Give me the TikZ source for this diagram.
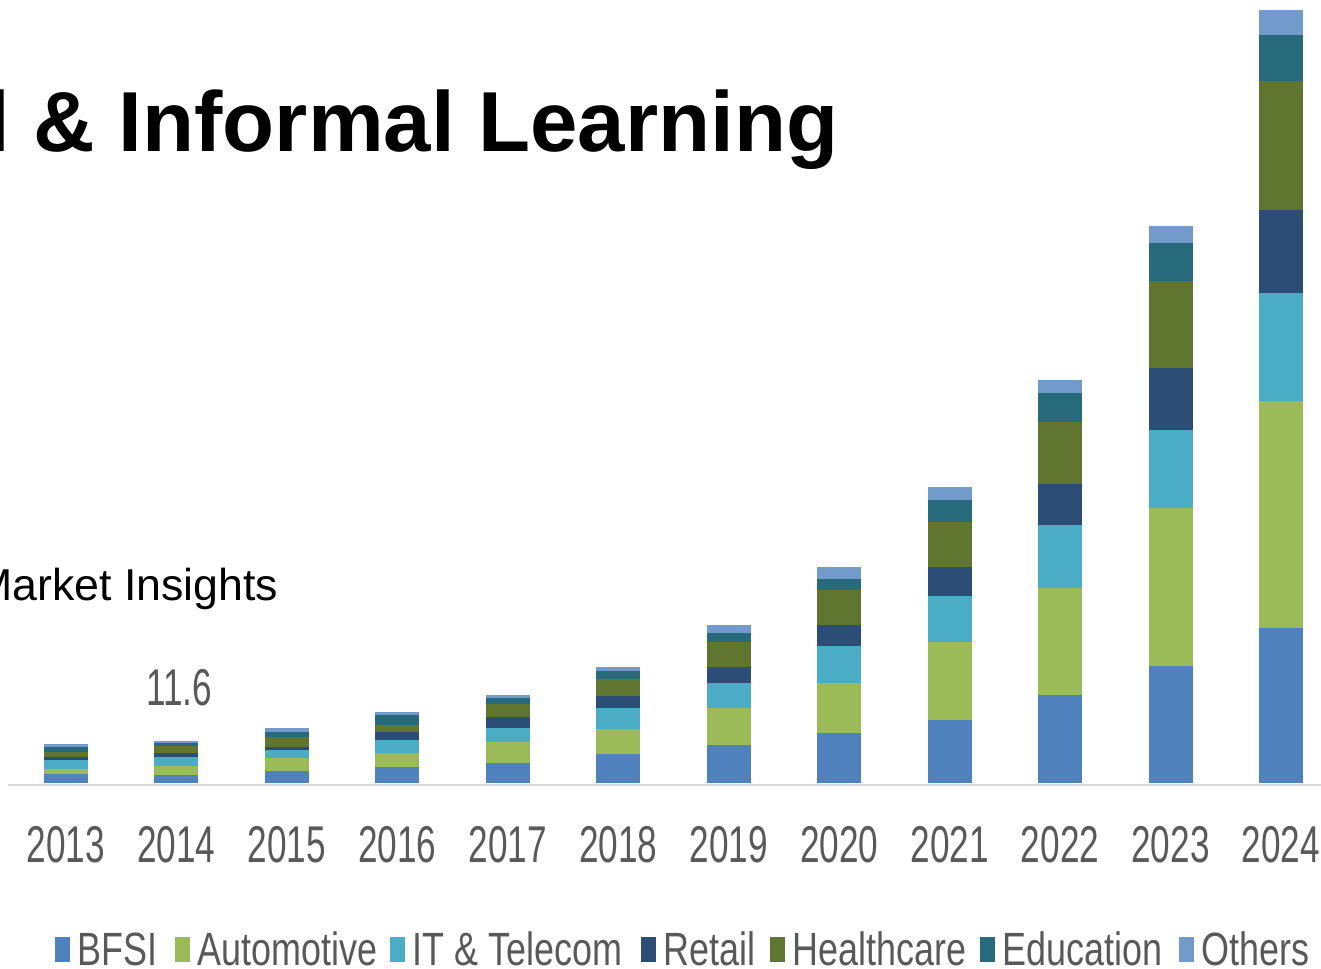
\documentclass[tikz,border=0pt]{standalone}
\usepackage{fontspec}
\setmainfont{Liberation Sans}
\newfontfamily\yearfont[FakeStretch=0.68]{Liberation Sans}
\newfontfamily\legfont[FakeStretch=0.77]{Liberation Sans}
\definecolor{cBFSI}{HTML}{4F81BD}
\definecolor{cAuto}{HTML}{9BBB59}
\definecolor{cTel}{HTML}{4BACC6}
\definecolor{cRetail}{HTML}{2C4D75}
\definecolor{cHealth}{HTML}{5F7530}
\definecolor{cEdu}{HTML}{276A7C}
\definecolor{cOther}{HTML}{729ACA}
\definecolor{axtext}{HTML}{595959}
\definecolor{axline}{HTML}{D9D9D9}
\usetikzlibrary{positioning}

\begin{document}
\begin{tikzpicture}[x=0.75pt,y=-0.75pt]

	\tikzset{lbl year/.style={inner sep=0, anchor=base,
			text=axtext,
			font=\yearfont\fontsize{38.8pt}{40pt}\selectfont}}
	\tikzset{leg box/.style={fill=#1, inner sep=0,
			minimum width=11.25pt, minimum height=18.75pt}}
	\tikzset{leg txt/.style={inner sep=0, right=5.5pt of #1,
			text=axtext,
			font=\legfont\fontsize{35pt}{36pt}\selectfont}}

	\useasboundingbox (0,0) rectangle (1321,968);
	\clip (0,0) rectangle (1321,968);

	\node[anchor=base west, inner sep=0,
		font=\bfseries\fontsize{63.9pt}{66pt}\selectfont] (title) at (-14,151) {l \& Informal Learning};
	\node[anchor=base west, inner sep=0,
		font=\fontsize{33.5pt}{35pt}\selectfont] (source) at (-25,600) {Market Insights};

	% stacked bars, boundaries bottom to top
	\foreach \yr/\hA/\hB/\hC/\hD/\hE/\hF/\hG [count=\i from 0] in
		{2013/774/769/760/757/752/747/744,
		 2014/775/766/757/753/746/743/741,
		 2015/771/758/750/747/737/732/728,
		 2016/767/753/740/732/725/715/712,
		 2017/763/742/728/717/704/698/695,
		 2018/754/729/708/696/679/671/667,
		 2019/745/708/683/667/642/633/625,
		 2020/733/683/646/625/590/579/567,
		 2021/720/642/596/567/522/500/487,
		 2022/695/588/525/484/422/393/380,
		 2023/666/508/430/368/281/243/226,
		 2024/628/401/293/210/81/35/10}{
		\pgfmathsetmacro{\cx}{66+110.45*\i}
		\fill[cBFSI] (\cx-22,783) rectangle (\cx+22,\hA);
		\fill[cAuto] (\cx-22,\hA) rectangle (\cx+22,\hB);
		\fill[cTel] (\cx-22,\hB) rectangle (\cx+22,\hC);
		\fill[cRetail] (\cx-22,\hC) rectangle (\cx+22,\hD);
		\fill[cHealth] (\cx-22,\hD) rectangle (\cx+22,\hE);
		\fill[cEdu] (\cx-22,\hE) rectangle (\cx+22,\hF);
		\fill[cOther] (\cx-22,\hF) rectangle (\cx+22,\hG);
		\node[lbl year] (yr\yr) at (\cx,862) {\yr};
	}

	\draw[axline, line width=2.2pt] (8,785) -- (1321,785);

	\node[lbl year] (val2014) at (179,705) {11.6};

	% legend
	\node[leg box=cBFSI] (kBFSI) at (62,949) {};
	\node[leg txt=kBFSI] (tBFSI) {BFSI};
	\node[leg box=cAuto] (kAuto) at (182,949) {};
	\node[leg txt=kAuto] (tAuto) {Automotive};
	\node[leg box=cTel] (kTel) at (397,949) {};
	\node[leg txt=kTel] (tTel) {IT \& Telecom};
	\node[leg box=cRetail] (kRetail) at (648,949) {};
	\node[leg txt=kRetail] (tRetail) {Retail};
	\node[leg box=cHealth] (kHealth) at (777,949) {};
	\node[leg txt=kHealth] (tHealth) {Healthcare};
	\node[leg box=cEdu] (kEdu) at (987,949) {};
	\node[leg txt=kEdu] (tEdu) {Education};
	\node[leg box=cOther] (kOther) at (1186,949) {};
	\node[leg txt=kOther] (tOther) {Others};

\end{tikzpicture}
\end{document}
